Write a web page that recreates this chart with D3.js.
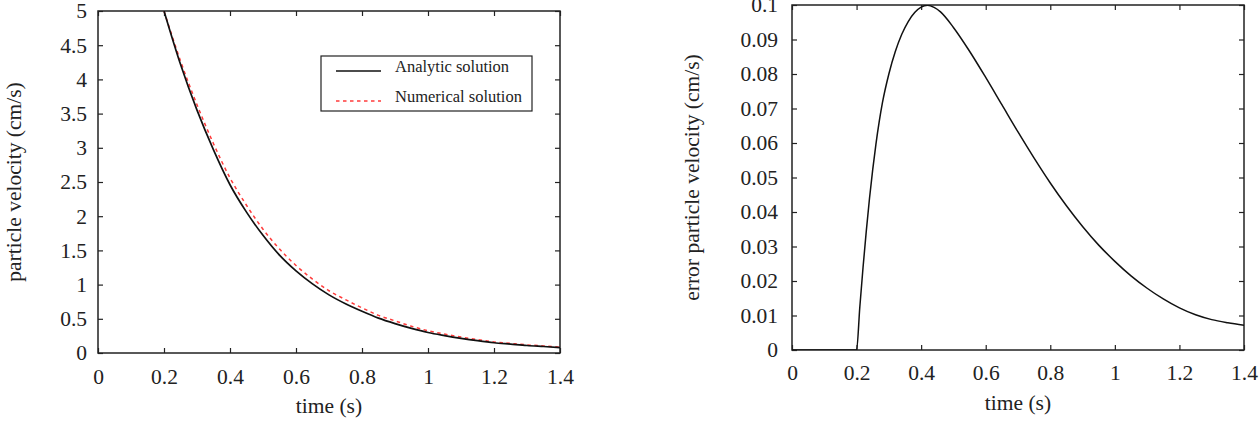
<!DOCTYPE html>
<html>
<head>
<meta charset="utf-8">
<script src="https://cdn.jsdelivr.net/npm/d3@7"></script>
<style>
  body { margin: 0; background: #fff; }
  text { font-family: "Liberation Serif", "Times New Roman", serif; fill: #222; }
</style>
</head>
<body>
<div id="chart"></div>
<script>
// time samples and velocities
const timeVel = [0.2, 0.25, 0.3, 0.35, 0.4, 0.45, 0.5, 0.55, 0.6, 0.65, 0.7, 0.75, 0.8,
  0.85, 0.9, 0.95, 1.0, 1.05, 1.1, 1.15, 1.2, 1.25, 1.3, 1.35, 1.4];
const analytic = [5.0, 4.22, 3.55, 2.97, 2.46, 2.06, 1.72, 1.43, 1.20, 1.01, 0.85, 0.72, 0.61,
  0.51, 0.43, 0.36, 0.30, 0.255, 0.215, 0.18, 0.15, 0.13, 0.11, 0.095, 0.08];
const numerical = [5.0, 4.27, 3.63, 3.06, 2.56, 2.16, 1.81, 1.52, 1.28, 1.08, 0.91, 0.78, 0.66,
  0.55, 0.47, 0.39, 0.326, 0.277, 0.233, 0.195, 0.162, 0.14, 0.119, 0.103, 0.087];

// error curve (right panel)
const timeErr = [0, 0.2, 0.21, 0.22, 0.23, 0.24, 0.25, 0.26, 0.27, 0.28, 0.30, 0.32, 0.34, 0.36,
  0.38, 0.40, 0.42, 0.44, 0.46, 0.50, 0.55, 0.60, 0.65, 0.70, 0.75, 0.80, 0.85, 0.90, 0.95,
  1.00, 1.05, 1.10, 1.15, 1.20, 1.25, 1.30, 1.35, 1.40];
const errorVel = [0, 0, 0.0124, 0.0239, 0.0344, 0.0439, 0.0523, 0.0597, 0.0661, 0.0716, 0.080,
  0.0865, 0.0915, 0.0952, 0.0978, 0.0994, 0.0999, 0.0993, 0.098, 0.0935, 0.0866, 0.079, 0.0711,
  0.0632, 0.0556, 0.0484, 0.0418, 0.0358, 0.0304, 0.0257, 0.0215, 0.0179, 0.0148, 0.0122,
  0.0102, 0.0088, 0.0079, 0.0072];

const xTicks = [0, 0.2, 0.4, 0.6, 0.8, 1, 1.2, 1.4];
const yTicksLeft = [0, 0.5, 1, 1.5, 2, 2.5, 3, 3.5, 4, 4.5, 5];
const yTicksRight = [0, 0.01, 0.02, 0.03, 0.04, 0.05, 0.06, 0.07, 0.08, 0.09, 0.1];
const legendLabels = ["Analytic solution", "Numerical solution"];

const width = 1259, height = 423;
const svg = d3.select("#chart").append("svg")
  .attr("width", width).attr("height", height);

function panel(opt) {
  const g = svg.append("g").attr("transform", `translate(${opt.left}, ${opt.top})`);
  const x = d3.scaleLinear().domain([0, 1.4]).range([0, opt.w]);
  const y = d3.scaleLinear().domain(opt.yDomain).range([opt.h, 0]);

  g.append("clipPath").attr("id", opt.id + "-clip")
    .append("rect").attr("width", opt.w).attr("height", opt.h);

  // ticks on all four sides, pointing inward
  const fs = "21.5px";
  const bx = g.append("g").attr("transform", `translate(0, ${opt.h})`)
    .call(d3.axisBottom(x).tickValues(xTicks).tickFormat(d3.format("~g"))
      .tickSizeInner(-5).tickSizeOuter(0).tickPadding(opt.xPad));
  const tx = g.append("g")
    .call(d3.axisTop(x).tickValues(xTicks).tickFormat("").tickSizeInner(-5).tickSizeOuter(0));
  const ly = g.append("g")
    .call(d3.axisLeft(y).tickValues(opt.yTicks).tickFormat(d3.format(opt.fmt))
      .tickSizeInner(-5).tickSizeOuter(0).tickPadding(opt.yPad));
  const ry = g.append("g").attr("transform", `translate(${opt.w}, 0)`)
    .call(d3.axisRight(y).tickValues(opt.yTicks).tickFormat("").tickSizeInner(-5).tickSizeOuter(0));
  [bx, tx, ly, ry].forEach(a => {
    a.select(".domain").remove();
    a.selectAll("line").attr("stroke", "#222").attr("stroke-width", 1.2);
    a.selectAll("text").attr("font-size", fs).attr("fill", "#222");
  });

  g.append("rect").attr("width", opt.w).attr("height", opt.h)
    .attr("fill", "none").attr("stroke", "#222").attr("stroke-width", 1.5);

  const line = d3.line().x(d => x(d[0])).y(d => y(d[1])).curve(d3.curveMonotoneX);
  const plot = g.append("g").attr("clip-path", `url(#${opt.id}-clip)`);
  opt.series.forEach(s => {
    plot.append("path")
      .datum(d3.zip(s.t, s.v))
      .attr("fill", "none")
      .attr("stroke", s.color)
      .attr("stroke-width", s.width)
      .attr("stroke-dasharray", s.dash || null)
      .attr("d", line);
  });

  // axis titles
  g.append("text")
    .attr("x", opt.w / 2).attr("y", opt.h + opt.xTitleDy)
    .attr("text-anchor", "middle").attr("font-size", "21.5px")
    .text("time (s)");
  g.append("text")
    .attr("transform", `translate(${opt.yTitleX}, ${opt.h / 2}) rotate(-90)`)
    .attr("text-anchor", "middle").attr("dominant-baseline", "central")
    .attr("font-size", "21.5px")
    .text(opt.yTitle);
  return { g, x, y };
}

const left = panel({
  id: "vel", left: 98, top: 11, w: 462, h: 342,
  yDomain: [0, 5], yTicks: yTicksLeft, fmt: "~g", yPad: 11, xPad: 16,
  xTitleDy: 60, yTitleX: -84, yTitle: "particle velocity (cm/s)",
  series: [
    { t: timeVel, v: numerical, color: "#ff3b3b", width: 1.5, dash: "3.5,3.5" },
    { t: timeVel, v: analytic, color: "#111", width: 1.7 }
  ]
});

// legend
const legend = left.g.append("g").attr("transform", "translate(223, 45)");
legend.append("rect").attr("width", 211).attr("height", 55)
  .attr("fill", "#fff").attr("stroke", "#222").attr("stroke-width", 1.2);
const legendStyles = [
  { color: "#111", dash: null },
  { color: "#ff3b3b", dash: "3.5,3.5" }
];
legendLabels.forEach((lab, i) => {
  const yy = 15 + i * 30;
  legend.append("line").attr("x1", 15).attr("x2", 60).attr("y1", yy).attr("y2", yy)
    .attr("stroke", legendStyles[i].color).attr("stroke-width", 1.5)
    .attr("stroke-dasharray", legendStyles[i].dash);
  legend.append("text").attr("x", 74).attr("y", yy + 1)
    .attr("font-size", "16.5px").text(lab);
});

panel({
  id: "err", left: 792, top: 5, w: 452, h: 345,
  yDomain: [0, 0.1], yTicks: yTicksRight, fmt: ".2~f", yPad: 14, xPad: 15,
  xTitleDy: 60, yTitleX: -100, yTitle: "error particle velocity (cm/s)",
  series: [
    { t: timeErr, v: errorVel, color: "#111", width: 1.5 }
  ]
});
</script>
</body>
</html>
